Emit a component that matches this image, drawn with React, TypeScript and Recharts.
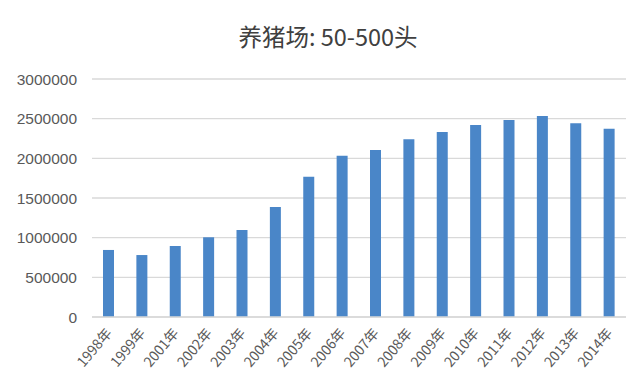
import React from 'react';
import { BarChart, Bar, XAxis, YAxis, CartesianGrid } from 'recharts';

const years = ['1998年', '1999年', '2001年', '2002年', '2003年', '2004年', '2005年', '2006年', '2007年', '2008年', '2009年', '2010年', '2011年', '2012年', '2013年', '2014年'];
const values = [845000, 781000, 895000, 1005000, 1097000, 1387000, 1768000, 2033000, 2105000, 2240000, 2332000, 2420000, 2483000, 2534000, 2441000, 2374000];
const yTicks = [0, 500000, 1000000, 1500000, 2000000, 2500000, 3000000];

const data = years.map((y, i) => ({ year: y, value: values[i] }));

const FONT = '"Noto Sans CJK SC", "Liberation Sans", Arial, sans-serif';

const XTick = (props: any) => {
  const { x, y, payload } = props;
  return (
    <g transform={`translate(${x + 1},${y + 6})`}>
      <text
        x={0}
        y={0}
        dy={4}
        textAnchor="end"
        transform="rotate(-50)"
        fill="#595959"
        fontSize={14}
        fontFamily={FONT}
      >
        {payload.value}
      </text>
    </g>
  );
};

export default function App() {
  return (
    <div style={{ position: 'absolute', left: 0, top: 0, width: 642, height: 385, background: '#fff' }}>
      <div
        style={{
          position: 'absolute',
          left: 0,
          top: 21,
          width: 656,
          textAlign: 'center',
          fontFamily: FONT,
          fontSize: 23.5,
          color: '#404040',
          lineHeight: '30px',
        }}
      >
        养猪场: 50-500头
      </div>
      <BarChart
        width={642}
        height={385}
        data={data}
        margin={{ top: 79, right: 16, bottom: 8, left: 0 }}
        barCategoryGap="33%"
      >
        <CartesianGrid vertical={false} stroke="#d9d9d9" strokeWidth={1.3} />
        <XAxis
          dataKey="year"
          interval={0}
          height={60}
          axisLine={{ stroke: '#d9d9d9', strokeWidth: 1.3 }}
          tickLine={false}
          tick={<XTick />}
        />
        <YAxis
          width={92}
          domain={[0, 3000000]}
          ticks={yTicks}
          axisLine={false}
          tickLine={false}
          tickSize={0}
          tickMargin={15}
          tick={{ fill: '#595959', fontSize: 15.5, fontFamily: '"Liberation Sans", Arial, sans-serif' }}
        />
        <Bar dataKey="value" fill="#4a86c8" barSize={11} isAnimationActive={false} />
      </BarChart>
    </div>
  );
}
